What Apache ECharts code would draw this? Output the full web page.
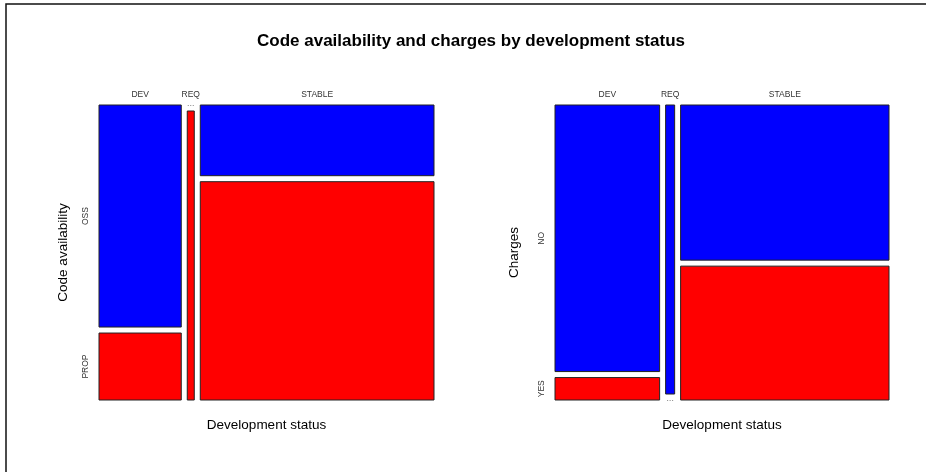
<!DOCTYPE html>
<html>
<head>
<meta charset="utf-8">
<script src="https://cdn.jsdelivr.net/npm/echarts@6/dist/echarts.min.js"></script>
<style>
  html, body { margin: 0; padding: 0; background: #fff; }
  #chart { width: 926px; height: 472px; }
</style>
</head>
<body>
<div id="chart"></div>
<script>
// Development status columns shared by both mosaics
const statuses = ['DEV', 'REQ', 'STABLE'];

// Code availability counts per status
const availLevels = ['OSS', 'PROP'];
const availOSS = [63, 0, 57];
const availPROP = [19, 7, 176];

// Charges counts per status
const chargeLevels = ['NO', 'YES'];
const chargesNO = [107, 10, 124];
const chargesYES = [9, 0, 107];

const tileColors = ['#0000ff', '#ff0000'];
const FONT = 'Liberation Sans, Arial, sans-serif';

// Spacing between tiles, as a fraction of the unit square of each panel
const GAP_X = 6 / 335;
const GAP_Y = 6 / 295;

// Build mosaic tiles: columns sized by status totals, rows split within each column
function mosaic(rows, rowNames) {
  const nCol = statuses.length;
  const colTotals = statuses.map((_, c) => rows.reduce((s, r) => s + r[c], 0));
  const grand = colTotals.reduce((a, b) => a + b, 0);
  const availW = 1 - (nCol - 1) * GAP_X;
  const availH = 1 - (rows.length - 1) * GAP_Y;
  const tiles = [];
  const colLabels = [];
  const rowLabels = [];
  let x = 0;
  statuses.forEach((name, c) => {
    const w = colTotals[c] / grand * availW;
    let y = 0;
    rows.forEach((r, k) => {
      const h = r[c] / colTotals[c] * availH;
      tiles.push({ value: [x, x + w, y, y + h, k, r[c]] });
      if (c === 0) rowLabels.push({ name: rowNames[k], value: [x, y + h / 2, 1] });
      y += h + GAP_Y;
    });
    colLabels.push({ name: name, value: [x + w / 2, 0, 0] });
    x += w + GAP_X;
  });
  return { tiles, labels: colLabels.concat(rowLabels) };
}

const panels = [
  mosaic([availOSS, availPROP], availLevels),
  mosaic([chargesNO, chargesYES], chargeLevels)
];

function renderTile(params, api) {
  const p0 = api.coord([api.value(0), api.value(2)]);
  const p1 = api.coord([api.value(1), api.value(3)]);
  if (api.value(5) === 0) {
    // empty cell: short dotted mark
    const cx = (p0[0] + p1[0]) / 2;
    return {
      type: 'line',
      shape: { x1: cx - 3, y1: p0[1] + 0.5, x2: cx + 4, y2: p0[1] + 0.5 },
      style: { stroke: '#888', lineWidth: 1, lineDash: [1, 1.5] }
    };
  }
  return {
    type: 'rect',
    shape: { x: p0[0], y: p0[1], width: p1[0] - p0[0], height: p1[1] - p0[1] },
    style: { fill: tileColors[api.value(4)], stroke: '#222', lineWidth: 1 }
  };
}

function renderLabel(params, api) {
  const p = api.coord([api.value(0), api.value(1)]);
  const side = api.value(2);
  const item = panels[params.seriesIndex === 1 ? 0 : 1].labels[params.dataIndex];
  const style = { text: item.name, fill: '#333', font: '8.5px ' + FONT, align: 'center', verticalAlign: 'middle' };
  if (side === 0) {
    return { type: 'text', x: p[0], y: p[1] - 10, style: style };
  }
  return { type: 'text', x: p[0] - 13, y: p[1], rotation: Math.PI / 2, style: style };
}

const gridBoxes = [
  { left: 99, top: 105, width: 335, height: 295 },
  { left: 555, top: 105, width: 334, height: 295 }
];
const yTitles = ['Code availability', 'Charges'];
const yGaps = [29, 34];

const hiddenAxis = {
  axisLine: { show: false }, axisTick: { show: false },
  axisLabel: { show: false }, splitLine: { show: false }
};

const option = {
  animation: false,
  backgroundColor: '#fff',
  graphic: [{
    type: 'rect', silent: true,
    shape: { x: 6, y: 4, width: 1200, height: 800 },
    style: { fill: 'none', stroke: '#111', lineWidth: 1.5 }
  }, {
    type: 'text', silent: true, x: 471, y: 41,
    style: {
      text: 'Code availability and charges by development status',
      fill: '#000', font: 'bold 17px ' + FONT, align: 'center', verticalAlign: 'middle'
    }
  }],
  grid: gridBoxes,
  xAxis: gridBoxes.map((_, i) => Object.assign({
    type: 'value', gridIndex: i, min: 0, max: 1,
    name: 'Development status', nameLocation: 'middle', nameGap: 18,
    nameTextStyle: { fontFamily: FONT, fontSize: 13.5, color: '#000' }
  }, hiddenAxis)),
  yAxis: gridBoxes.map((_, i) => Object.assign({
    type: 'value', gridIndex: i, min: 0, max: 1, inverse: true,
    name: yTitles[i], nameLocation: 'middle', nameGap: yGaps[i],
    nameTextStyle: { fontFamily: FONT, fontSize: 13.5, color: '#000' }
  }, hiddenAxis)),
  series: [
    { type: 'custom', xAxisIndex: 0, yAxisIndex: 0, renderItem: renderTile, data: panels[0].tiles },
    { type: 'custom', xAxisIndex: 0, yAxisIndex: 0, renderItem: renderLabel, data: panels[0].labels },
    { type: 'custom', xAxisIndex: 1, yAxisIndex: 1, renderItem: renderTile, data: panels[1].tiles },
    { type: 'custom', xAxisIndex: 1, yAxisIndex: 1, renderItem: renderLabel, data: panels[1].labels }
  ]
};

echarts.init(document.getElementById('chart')).setOption(option);
</script>
</body>
</html>
